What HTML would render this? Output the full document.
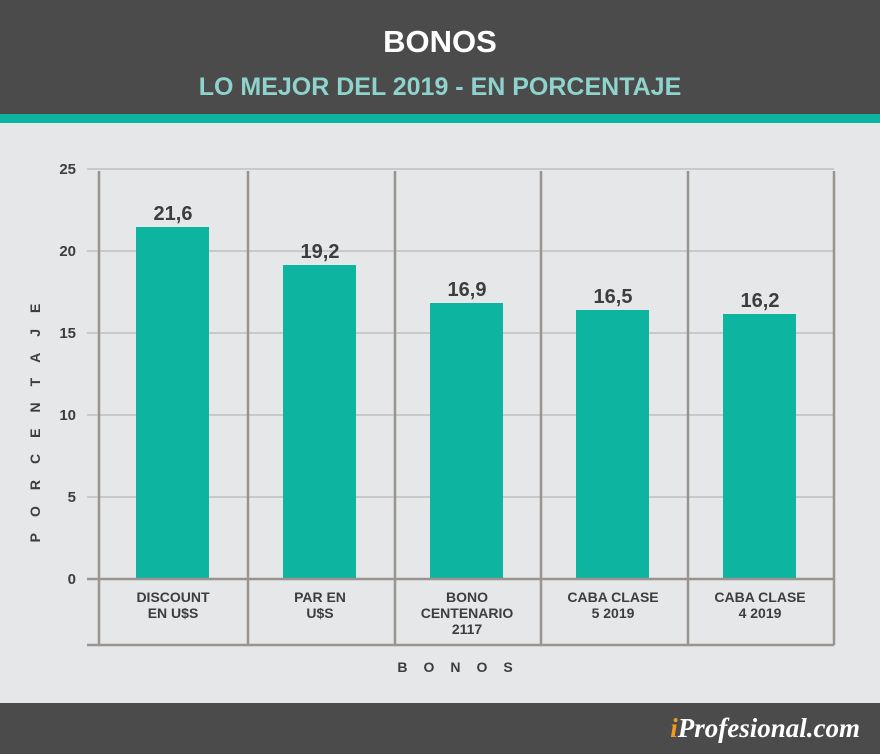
<!DOCTYPE html>
<html><head><meta charset="utf-8"><style>
body{margin:0;width:880px;height:754px;background:#e6e7e8;font-family:"Liberation Sans",sans-serif;overflow:hidden}
</style></head><body>
<svg width="880" height="754" xmlns="http://www.w3.org/2000/svg" style="display:block">
<rect x="0" y="0" width="880" height="114" fill="#4b4b4b"/>
<rect x="0" y="114" width="880" height="9" fill="#0db5a0"/>
<rect x="0" y="703" width="880" height="51" fill="#4b4b4b"/>
<text x="440" y="52" text-anchor="middle" font-size="31" font-weight="bold" fill="#fff">BONOS</text>
<text x="440" y="95" text-anchor="middle" font-size="25" font-weight="bold" fill="#8fd3cd">LO MEJOR DEL 2019 - EN PORCENTAJE</text>
<g stroke="#c9c9c9" stroke-width="2">
<line x1="87" y1="169" x2="834" y2="169"/>
<line x1="87" y1="251" x2="834" y2="251"/>
<line x1="87" y1="333" x2="834" y2="333"/>
<line x1="87" y1="415" x2="834" y2="415"/>
<line x1="87" y1="497" x2="834" y2="497"/>
</g>
<g fill="#0db5a0">
<rect x="136" y="227" width="73" height="352"/>
<rect x="283" y="265" width="73" height="314"/>
<rect x="430" y="303" width="73" height="276"/>
<rect x="576" y="310" width="73" height="269"/>
<rect x="723" y="314" width="73" height="265"/>
</g>
<g stroke="#9a9490" stroke-width="2.5">
<line x1="99" y1="171" x2="99" y2="645"/>
<line x1="248" y1="171" x2="248" y2="645"/>
<line x1="395" y1="171" x2="395" y2="645"/>
<line x1="541" y1="171" x2="541" y2="645"/>
<line x1="688" y1="171" x2="688" y2="645"/>
<line x1="834" y1="171" x2="834" y2="645"/>
<line x1="87" y1="579" x2="834" y2="579"/>
<line x1="87" y1="645" x2="834" y2="645"/>
</g>
<g font-size="15" font-weight="bold" fill="#3d3d3d" text-anchor="end">
<text x="76" y="174">25</text><text x="76" y="256">20</text><text x="76" y="338">15</text>
<text x="76" y="420">10</text><text x="76" y="502">5</text><text x="76" y="584">0</text>
</g>
<g font-size="20" font-weight="bold" fill="#3d3d3d" text-anchor="middle">
<text x="173" y="220">21,6</text><text x="320" y="258">19,2</text><text x="467" y="296">16,9</text>
<text x="613" y="303">16,5</text><text x="760" y="307">16,2</text>
</g>
<g font-size="14" font-weight="bold" fill="#3d3d3d" text-anchor="middle">
<text x="173" y="602">DISCOUNT</text><text x="173" y="618">EN U$S</text>
<text x="320" y="602">PAR EN</text><text x="320" y="618">U$S</text>
<text x="467" y="602">BONO</text><text x="467" y="618">CENTENARIO</text><text x="467" y="634">2117</text>
<text x="613" y="602">CABA CLASE</text><text x="613" y="618">5 2019</text>
<text x="760" y="602">CABA CLASE</text><text x="760" y="618">4 2019</text>
</g>
<text x="463" y="672" text-anchor="middle" font-size="14" font-weight="bold" fill="#3d3d3d" letter-spacing="16">BONOS</text>
<text transform="translate(40,415) rotate(-90)" text-anchor="middle" font-size="14" font-weight="bold" fill="#3d3d3d" letter-spacing="16">PORCENTAJE</text>
<text x="860" y="737" text-anchor="end" font-family="Liberation Serif,serif" font-style="italic" font-weight="bold" font-size="27" fill="#fff"><tspan fill="#f39a1e">i</tspan>Profesional.com</text>
</svg>
</body></html>
